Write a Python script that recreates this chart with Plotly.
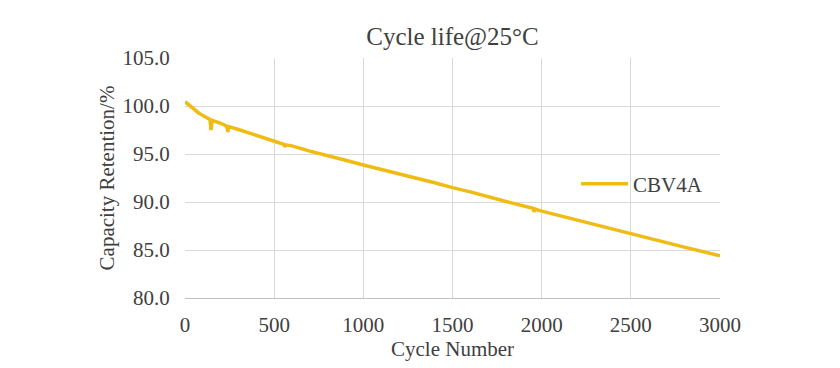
import plotly.graph_objects as go

cycles = [0, 25, 50, 75, 100, 140, 146, 152, 200, 234, 240, 246, 300, 400, 505, 555, 560, 565,
          600, 700, 813, 900, 1000, 1200, 1400, 1500, 1600, 1800, 1950, 1957, 1964, 2000,
          2200, 2400, 2500, 2600, 2800, 3000]
retention = [100.45, 100.05, 99.65, 99.3, 99.0, 98.6, 97.5, 98.5, 98.2, 97.9, 97.3, 97.85, 97.55, 96.9, 96.3,
             96.0, 95.75, 95.95, 95.85, 95.3, 94.8, 94.35, 93.85, 92.95, 92.0, 91.5, 91.05, 90.05,
             89.35, 89.0, 89.25, 89.05, 88.1, 87.15, 86.7, 86.25, 85.3, 84.4]
x_ticks = [0, 500, 1000, 1500, 2000, 2500, 3000]
y_ticks = [80.0, 85.0, 90.0, 95.0, 100.0, 105.0]

ff = "Liberation Serif, Times New Roman, serif"
txt = "#404040"
gold = "#F0BB12"

fig = go.Figure()
fig.add_trace(go.Scatter(x=cycles, y=retention, mode="lines", name="CBV4A",
                         line=dict(color=gold, width=3.5)))

fig.update_layout(
    width=840, height=368,
    margin=dict(l=177, r=128, t=50, b=78, autoexpand=False),
    paper_bgcolor="white", plot_bgcolor="white",
    font=dict(family=ff, size=21, color=txt),
    title=dict(text="Cycle life@25°C", x=0.5, xanchor="center", xref="paper",
               y=0.922, yanchor="middle", font=dict(family=ff, size=25, color=txt)),
    showlegend=True,
    legend=dict(x=0.731, y=0.475, xanchor="left", yanchor="middle", itemwidth=47,
                bgcolor="rgba(0,0,0,0)", font=dict(family=ff, size=21, color=txt)),
    annotations=[dict(text="Cycle Number", xref="paper", yref="paper", x=0.5, y=-0.214,
                      xanchor="center", yanchor="middle", showarrow=False,
                      font=dict(family=ff, size=21, color=txt))],
)
fig.update_xaxes(range=[0, 3000], tickvals=x_ticks, ticktext=[str(v) for v in x_ticks],
                 showgrid=True, gridcolor="#D9D9D9", gridwidth=1, automargin=False,
                 showline=True, linecolor="#BFBFBF", linewidth=1, zeroline=False,
                 ticks="outside", ticklen=8, tickcolor="rgba(0,0,0,0)",
                 tickfont=dict(family=ff, size=21, color=txt))
fig.update_yaxes(range=[80, 105], tickvals=y_ticks, ticktext=[f"{v:.1f}" for v in y_ticks],
                 showgrid=True, gridcolor="#D9D9D9", gridwidth=1, automargin=False,
                 showline=False, zeroline=False,
                 ticks="outside", ticklen=10, tickcolor="rgba(0,0,0,0)",
                 title=dict(text="Capacity Retention/%", standoff=2, font=dict(family=ff, size=21, color=txt)),
                 tickfont=dict(family=ff, size=21, color=txt))

fig.write_html("out.html")
